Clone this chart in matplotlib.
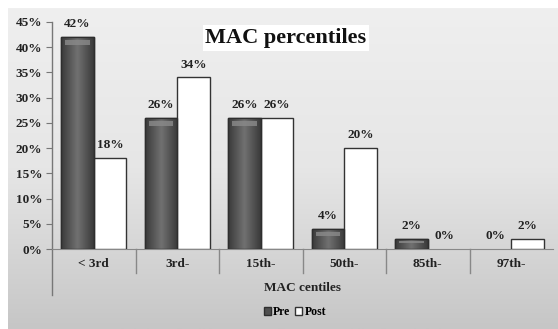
import numpy as np
import matplotlib
matplotlib.use("Agg")
import matplotlib.pyplot as plt
from matplotlib.patches import Rectangle
from matplotlib.lines import Line2D

categories = ["< 3rd", "3rd-", "15th-", "50th-", "85th-", "97th-"]
pre = [42, 26, 26, 4, 2, 0]
post = [18, 34, 26, 20, 0, 2]
yticks = [0, 5, 10, 15, 20, 25, 30, 35, 40, 45]

W, H = 558, 329
fig = plt.figure(figsize=(W / 100, H / 100), dpi=100)
fig.patch.set_facecolor("white")

# gradient background panel
bg = fig.add_axes([8 / W, 0, 1 - 8 / W, 1 - 8 / H], zorder=-5)
grad = np.linspace(0, 1, 256).reshape(-1, 1)
cmap = matplotlib.colors.LinearSegmentedColormap.from_list("g", ["#efefef", "#e6e6e6", "#c6c6c6"])
bg.imshow(grad, aspect="auto", cmap=cmap, extent=[0, 1, 0, 1], origin="upper")
bg.set_axis_off()

serif = ["Liberation Serif", "DejaVu Serif"]
fs = 9.5
left, right = 52, 553
y0, y45 = 249, 22
ax = fig.add_axes([left / W, 1 - y0 / H, (right - left) / W, (y0 - y45) / H])
ax.set_facecolor("none")

x = np.arange(len(categories))
bw = 0.39
pre_lw = [1.0 if v > 0 else 0 for v in pre]
post_lw = [1.0 if v > 0 else 0 for v in post]
pre_bars = ax.bar(x - bw / 2, pre, bw, color="#4f4f4f", edgecolor="#2e2e2e", linewidth=pre_lw, zorder=3)
ax.bar(x + bw / 2, post, bw, color="white", edgecolor="#333333", linewidth=post_lw, zorder=3)

# cylinder-like shading for Pre bars
hgrad = np.abs(np.linspace(-1, 1, 64))
hgrad = np.tile(hgrad, (2, 1))
bcmap = matplotlib.colors.LinearSegmentedColormap.from_list("b", ["#707070", "#3a3a3a"])
for bar, v in zip(pre_bars, pre):
    if v <= 0:
        continue
    bx, bwid = bar.get_x(), bar.get_width()
    im = ax.imshow(hgrad, aspect="auto", cmap=bcmap, extent=[bx, bx + bwid, 0, v], zorder=3.5)
    im.set_clip_path(bar)
    top = min(1.6, v * 0.45)
    ax.add_patch(Rectangle((bx + bwid * 0.12, v - top * 0.95), bwid * 0.76, top * 0.55,
                           facecolor="#8a8a8a", edgecolor="none", alpha=0.8, zorder=3.6))
    ax.add_patch(Rectangle((bx, 0), bwid, v, facecolor="none", edgecolor="#2e2e2e", lw=1.0, zorder=3.7))

for xi, v in zip(x, pre):
    ax.annotate(f"{v}%", (xi - bw / 2, v), xytext=(0, 5), textcoords="offset points",
                ha="center", va="bottom", fontsize=fs, fontweight="bold", family=serif, color="#222222")
for xi, v in zip(x, post):
    ax.annotate(f"{v}%", (xi + bw / 2, v), xytext=(0, 5), textcoords="offset points",
                ha="center", va="bottom", fontsize=fs, fontweight="bold", family=serif, color="#222222")

ax.set_xlim(-0.5, len(categories) - 0.5)
ax.set_ylim(0, 45)
ax.set_yticks(yticks)
ax.set_yticklabels([f"{t}%" for t in yticks], fontsize=fs, fontweight="bold", family=serif, color="#222222")
ax.tick_params(axis="y", length=4, width=0.8, color="#777777", pad=3)
ax.set_xticks([])
for s in ["top", "right"]:
    ax.spines[s].set_visible(False)
ax.spines["bottom"].set_color("#888888")
ax.spines["left"].set_visible(False)

axh = y0 - y45
ax.add_line(Line2D([-0.5, -0.5], [1, -46 / axh], transform=ax.get_xaxis_transform(),
                   color="#777777", lw=1.0, clip_on=False))
for b in np.arange(0.5, len(categories) - 0.5, 1):
    ax.add_line(Line2D([b, b], [0, -24 / axh], transform=ax.get_xaxis_transform(),
                       color="#888888", lw=1.0, clip_on=False))
for xi, c in zip(x, categories):
    ax.text(xi, -15 / axh, c, transform=ax.get_xaxis_transform(), ha="center", va="center",
            fontsize=fs, fontweight="bold", family=serif, color="#222222")

fig.text(302 / W, 1 - 288 / H, "MAC centiles", ha="center", va="center",
         fontsize=fs, fontweight="bold", family=serif, color="#222222")

fig.text(286 / W, 1 - 38 / H, "MAC percentiles", ha="center", va="center",
         fontsize=16, fontweight="bold", family=serif, color="#111111",
         bbox=dict(facecolor="white", edgecolor="none", pad=2))

handles = [Rectangle((0, 0), 1, 1, facecolor="#4f4f4f", edgecolor="#2e2e2e"),
           Rectangle((0, 0), 1, 1, facecolor="white", edgecolor="#333333")]
fig.legend(handles, ["Pre", "Post"], loc="center", bbox_to_anchor=(295 / W, 1 - 312 / H),
           ncol=2, frameon=False, handlelength=0.6, handleheight=0.6, handletextpad=0.2,
           columnspacing=0.4, prop=dict(family=serif, weight="bold", size=8.5))

fig.savefig("out.png", dpi=100)
